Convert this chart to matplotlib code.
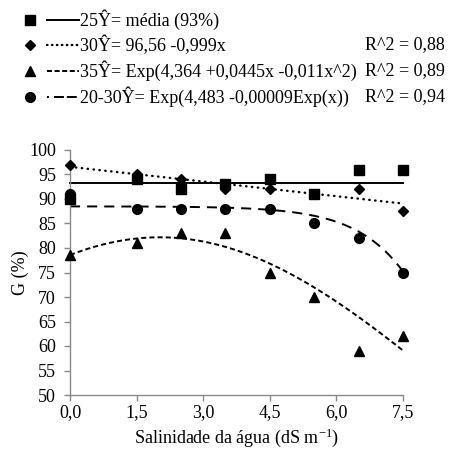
import numpy as np
import matplotlib
matplotlib.use("Agg")
import matplotlib.pyplot as plt
from matplotlib.lines import Line2D

plt.rcParams['font.family'] = ['Liberation Serif', 'DejaVu Serif']
plt.rcParams['mathtext.fontset'] = 'custom'
plt.rcParams['mathtext.rm'] = 'Liberation Serif'
plt.rcParams['mathtext.it'] = 'Liberation Serif:italic'

# Germination (%) vs. irrigation water salinity, per temperature regime
salinity = [0.0, 1.5, 2.5, 3.5, 4.5, 5.5, 6.5, 7.5]
g25 = [90, 94, 92, 93, 94, 91, 96, 96]
g30 = [97, 95, 94, 92, 92, 91, 92, 87.5]
g35 = [78.5, 81, 83, 83, 75, 70, 59, 62]
g2030 = [91, 88, 88, 88, 88, 85, 82, 75]

x_ticks = [0.0, 1.5, 3.0, 4.5, 6.0, 7.5]
x_tick_labels = ['0,0', '1,5', '3,0', '4,5', '6,0', '7,5']
y_ticks = list(range(50, 101, 5))

legend_labels = ['25Ŷ= média (93%)',
                 '30Ŷ= 96,56 -0,999x',
                 '35Ŷ= Exp(4,364 +0,0445x -0,011x^2)',
                 '20-30Ŷ= Exp(4,483 -0,00009Exp(x))']
r2_labels = ['', 'R^2 = 0,88', 'R^2 = 0,89', 'R^2 = 0,94']

# regression coefficients
lin30 = (96.56, -0.999)
quad35 = (4.364, 0.0445, -0.011)
exp2030 = (4.483, -0.00009)

W, H = 449, 450
fig = plt.figure(figsize=(W / 100, H / 100), dpi=100)
ax = fig.add_axes([70 / W, 1 - 395 / H, 333 / W, 245 / H])

xs = np.linspace(salinity[0], salinity[-1], 300)
fit25 = np.full_like(xs, np.mean(g25))
fit30 = lin30[0] + lin30[1] * xs
fit35 = np.exp(quad35[0] + quad35[1] * xs + quad35[2] * xs ** 2)
fit2030 = np.exp(exp2030[0] + exp2030[1] * np.exp(xs))

styles = [
    dict(marker='s', ms=6.5, lw=1.4, dashes=None, key_dashes=None, cap='butt'),
    dict(marker='D', ms=5.0, lw=1.7, dashes=(0.2, 2.3), key_dashes=(0.2, 1.9),
         cap='round'),
    dict(marker='^', ms=6.5, lw=1.4, dashes=(2.6, 1.6), key_dashes=(2.6, 1.3),
         cap='butt'),
    dict(marker='o', ms=7.0, lw=1.4, dashes=(5.2, 3.6),
         key_dashes=(1.0, 2.6, 5.1, 1.5, 5.1, 1.5), cap='butt'),
]
series = [g25, g30, g35, g2030]
fits = [fit25, fit30, fit35, fit2030]

for ys, fy, st in zip(series, fits, styles):
    kw = dict(color='black', lw=st['lw'], clip_on=False,
              dash_capstyle=st['cap'])
    if st['dashes'] is not None:
        kw['dashes'] = st['dashes']
    ax.plot(xs, fy, **kw)
    ax.plot(salinity, ys, ls='none', marker=st['marker'], ms=st['ms'],
            color='black', clip_on=False, zorder=3)

ax.set_xlim(0, 7.5)
ax.set_ylim(50, 100)
ax.set_xticks(x_ticks)
ax.set_xticklabels(x_tick_labels)
ax.set_yticks(y_ticks)
for s in ['top', 'right']:
    ax.spines[s].set_visible(False)
for s in ['left', 'bottom']:
    ax.spines[s].set_color('#8a8a8a')
    ax.spines[s].set_linewidth(1.0)
ax.tick_params(axis='both', direction='out', length=4, width=1.0,
               color='#8a8a8a', labelsize=13, labelcolor='black')
ax.tick_params(axis='x', pad=2.5)
ax.tick_params(axis='y', pad=6)
ax.set_xlabel('Salinidade da água (dS m$^{-1}$)', fontsize=13, labelpad=4)
ax.set_ylabel('G (%)', fontsize=13, labelpad=0.5)

# key block above the axes, drawn in figure pixel coordinates
row_y = [20, 45, 71, 97]
for i, (lab, r2, st) in enumerate(zip(legend_labels, r2_labels, styles)):
    y = H - row_y[i]
    fig.add_artist(Line2D([30], [y], marker=st['marker'], ms=st['ms'],
                          color='black', transform=None))
    lkw = dict(color='black', lw=st['lw'], transform=None,
               dash_capstyle=st['cap'])
    if st['key_dashes'] is not None:
        lkw['dashes'] = st['key_dashes']
    fig.add_artist(Line2D([47, 79], [y, y], **lkw))
    fig.text(80 / W, y / H, lab, fontsize=13, va='center', ha='left')
    if r2:
        fig.text(445 / W, y / H, r2, fontsize=13, va='center', ha='right')

fig.savefig('out.png', dpi=100)
